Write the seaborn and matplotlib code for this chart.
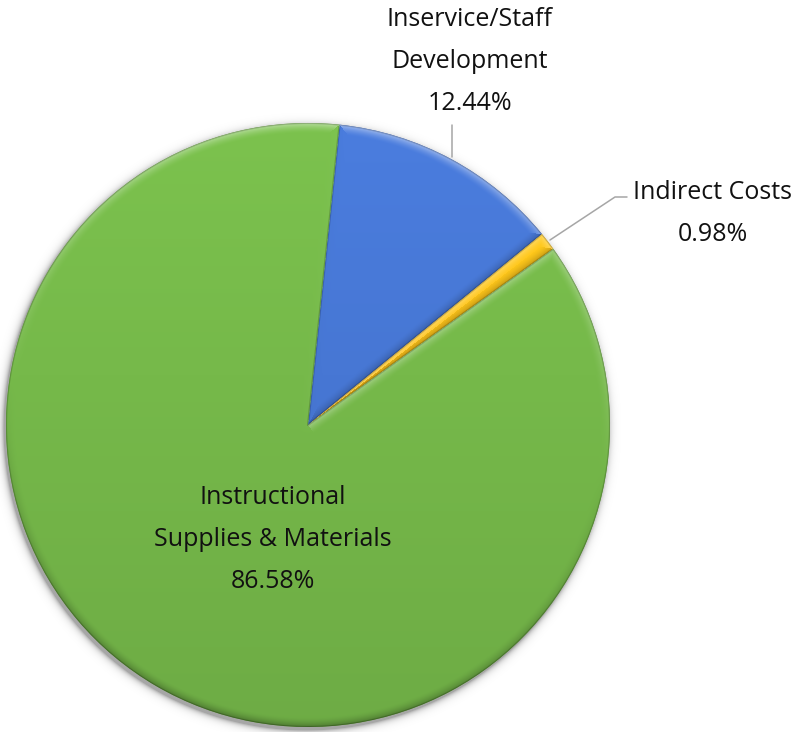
import numpy as np
import matplotlib
matplotlib.use("Agg")
import matplotlib.pyplot as plt
import seaborn as sns
from matplotlib.colors import to_rgb

# Budget shares by category (percent)
categories = ["Inservice/Staff\nDevelopment", "Indirect Costs",
              "Instructional\nSupplies & Materials"]
shares = [12.44, 0.98, 86.58]
slice_colors = ["#4777d4", "#ffc31a", "#76b94a"]

sns.set_theme(style="white")
plt.rcParams["font.family"] = ["Open Sans", "DejaVu Sans"]

W, H = 797, 732
fig = plt.figure(figsize=(W / 100, H / 100), dpi=100)
ax = fig.add_axes([0, 0, 1, 1])

cx, cy, R = 308, H - 425, 302
palette = sns.color_palette(slice_colors)
wedges, _ = ax.pie(shares, colors=palette, startangle=84, counterclock=False,
                   center=(cx, cy), radius=R, wedgeprops=dict(linewidth=0))
ax.set_xlim(0, W)
ax.set_ylim(0, H)
ax.set_aspect("equal")
ax.axis("off")

# soft drop shadow behind the pie
gy, gx = np.mgrid[0:H, 0:W] + 0.5
dist = np.hypot(gx - (cx - 2), gy - (cy - 3)) - R
alpha = np.where(dist > 0, 0.35 * np.exp(-dist / 3.0), 0.35)
shadow = np.zeros((H, W, 4))
shadow[..., 3] = alpha
ax.imshow(shadow, extent=(0, W, 0, H), origin="lower", zorder=0.5,
          interpolation="bilinear")

# bevel + vertical gradient shading for each slice
n = 2 * R
yy, xx = np.mgrid[0:n, 0:n] + 0.5
X = xx + cx - R
Y = yy + cy - R
dx, dy = X - cx, Y - cy
rho = np.hypot(dx, dy) + 1e-9
phi = np.degrees(np.arctan2(dy, dx))
light = np.array([0.15, 0.99])
light /= np.linalg.norm(light)
bw = 10.0

for w, col in zip(wedges, slice_colors):
    t1, t2 = w.theta1, w.theta2
    base = np.array(to_rgb(col))
    rel1 = np.mod(phi - t1, 360)
    rel2 = np.mod(t2 - phi, 360)
    d_arc = R - rho
    d1 = np.where(rel1 < 90, rho * np.sin(np.radians(np.minimum(rel1, 90))), rho)
    d2 = np.where(rel2 < 90, rho * np.sin(np.radians(np.minimum(rel2, 90))), rho)
    a1, a2 = np.radians(t1), np.radians(t2)
    n_arc = np.stack([dx / rho, dy / rho], -1)
    n1 = np.array([np.sin(a1), -np.cos(a1)])
    n2 = np.array([-np.sin(a2), np.cos(a2)])
    d = np.minimum(np.minimum(d_arc, d1), d2)
    normal = np.where((d == d_arc)[..., None], n_arc,
                      np.where((d == d1)[..., None], n1, n2))
    shade = normal @ light
    fall = np.clip(1 - d / bw, 0, 1) ** 1.6
    t = (Y - (cy - R)) / (2 * R)
    rgb = base[None, None, :] * (0.93 + 0.12 * t[..., None])
    rgb = np.clip(rgb, 0, 1)
    up = np.clip(shade, 0, None)[..., None] * fall[..., None]
    dn = np.clip(-shade, 0, None)[..., None] * fall[..., None]
    rgb = rgb + up * (1 - rgb) * 0.45 - dn * rgb * 0.30
    edge = np.clip(1 - d / 1.6, 0, 1)[..., None]
    rgb = rgb * (1 - 0.28 * edge)
    im = ax.imshow(np.clip(rgb, 0, 1), extent=(cx - R, cx + R, cy - R, cy + R),
                   origin="lower", zorder=2, interpolation="bilinear")
    im.set_clip_path(w)

# leader lines
lc = "#a6a6a6"
ax.plot([452, 452], [H - 125, H - 157], color=lc, lw=1.1, zorder=3)
ax.plot([550, 615, 627], [H - 240, H - 197, H - 197], color=lc, lw=1.1, zorder=3)

# labels: category name lines followed by the percentage
anchors = [(470, 26), (713, 199), (273, 504)]
line_gap = 42
for cat, val, (lx, ly) in zip(categories, shares, anchors):
    lines = cat.split("\n") + [f"{val:.2f}%"]
    for i, s in enumerate(lines):
        ax.text(lx, H - (ly + i * line_gap), s, ha="center", va="baseline",
                fontsize=18, color="#111111", zorder=5)

fig.savefig("out.png", dpi=100)
